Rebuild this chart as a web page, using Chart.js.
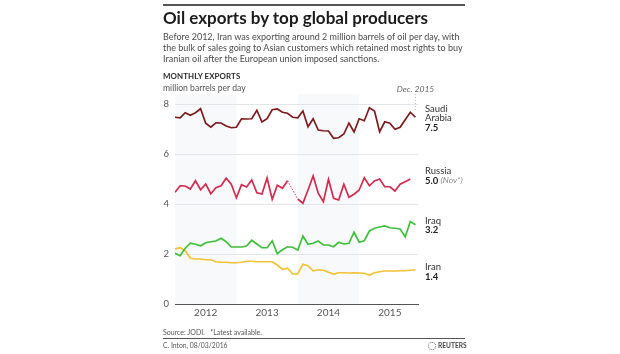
<!DOCTYPE html>
<html>
<head>
<meta charset="utf-8">
<script src="https://cdn.jsdelivr.net/npm/chart.js@4.4.1/dist/chart.umd.min.js"></script>
<style>
  body { margin: 0; background: #fff; font-family: Lato, "Open Sans", sans-serif; }
  #wrap { position: relative; width: 620px; height: 354px; overflow: hidden; background: #fff; }
  #wrap canvas { position: absolute; left: 0; top: 0; }
  .txt { position: absolute; left: 163px; white-space: nowrap; }
  .rule { position: absolute; left: 163px; width: 302px; background: #555; }
  #title { top: 7px; font-size: 17px; font-weight: 700; color: #1b1b1b; }
  #sub { top: 31px; font-size: 9px; line-height: 11px; color: #4a4a4a; }
  #head { top: 71px; font-size: 7.9px; font-weight: 700; color: #2a2a2a; letter-spacing: 0.1px; }
  #unit { top: 83px; font-size: 8.6px; color: #555; }
  #source { top: 328px; font-size: 7px; color: #555; }
  #credit { top: 341px; font-size: 6.8px; color: #555; }
  #logo { position: absolute; left: 428px; top: 341px; font-size: 6.6px; font-weight: 700; color: #444; white-space: nowrap; }
  #logo i { display: inline-block; width: 6px; height: 6px; border: 1.5px dotted #666; border-radius: 50%; vertical-align: -2px; margin-right: 2px; }
</style>
</head>
<body>
<div id="wrap">
  <canvas id="my-chart" width="620" height="354"></canvas>
  <div class="rule" style="top:4px;height:1.5px"></div>
  <div class="txt" id="title">Oil exports by top global producers</div>
  <div class="txt" id="sub">Before 2012, Iran was exporting around 2 million barrels of oil per day, with<br>the bulk of sales going to Asian customers which retained most rights to buy<br>Iranian oil after the European union imposed sanctions.</div>
  <div class="txt" id="head">MONTHLY EXPORTS</div>
  <div class="txt" id="unit">million barrels per day</div>
  <div class="txt" id="source">Source: JODI.&nbsp;&nbsp; *Latest available.</div>
  <div class="rule" style="top:338px;height:1px"></div>
  <div class="txt" id="credit">C. Inton, 08/03/2016</div>
  <div id="logo"><i></i>REUTERS</div>
</div>
<script>
// Jan 2012 .. Dec 2015
const months = [
    "Jan 12", "Feb 12", "Mar 12", "Apr 12", "May 12", "Jun 12", "Jul 12", "Aug 12", "Sep 12", "Oct 12", "Nov 12", "Dec 12",
    "Jan 13", "Feb 13", "Mar 13", "Apr 13", "May 13", "Jun 13", "Jul 13", "Aug 13", "Sep 13", "Oct 13", "Nov 13", "Dec 13",
    "Jan 14", "Feb 14", "Mar 14", "Apr 14", "May 14", "Jun 14", "Jul 14", "Aug 14", "Sep 14", "Oct 14", "Nov 14", "Dec 14",
    "Jan 15", "Feb 15", "Mar 15", "Apr 15", "May 15", "Jun 15", "Jul 15", "Aug 15", "Sep 15", "Oct 15", "Nov 15", "Dec 15"
];
const years = ["2012", "2013", "2014", "2015"];

const saudi = [
    7.47, 7.45, 7.65, 7.55, 7.65, 7.81, 7.23, 7.07, 7.25, 7.24, 7.12, 7.05,
    7.07, 7.41, 7.40, 7.41, 7.75, 7.28, 7.41, 7.77, 7.80, 7.67, 7.63, 7.47,
    7.45, 7.72, 7.09, 7.41, 6.96, 6.93, 6.92, 6.63, 6.65, 6.80, 7.24, 6.88,
    7.41, 7.33, 7.85, 7.72, 6.89, 7.29, 7.23, 6.99, 7.07, 7.37, 7.67, 7.47
];
const russia = [
    4.47, 4.73, 4.72, 4.60, 4.93, 4.57, 4.80, 4.41, 4.65, 4.73, 5.03, 4.79,
    4.25, 4.77, 4.68, 4.96, 4.45, 4.40, 5.04, 4.19, 4.75, 4.63, 4.93, null,
    4.20, 4.03, 4.56, 5.12, 4.43, 4.09, 4.99, 4.23, 4.16, 4.79, 4.27, 4.39,
    4.56, 5.05, 4.73, 4.92, 5.00, 4.69, 4.69, 4.52, 4.79, 4.89, 5.00, null
];
const iraq = [
    2.03, 1.93, 2.23, 2.43, 2.39, 2.33, 2.45, 2.49, 2.52, 2.63, 2.49, 2.28,
    2.28, 2.28, 2.32, 2.55, 2.40, 2.25, 2.25, 2.52, 2.01, 2.17, 2.29, 2.27,
    2.16, 2.72, 2.39, 2.43, 2.52, 2.36, 2.36, 2.29, 2.47, 2.40, 2.43, 2.87,
    2.47, 2.53, 2.92, 3.03, 3.08, 3.12, 3.05, 3.03, 3.00, 2.69, 3.30, 3.17
];
const iran = [
    2.20, 2.25, 2.13, 1.83, 1.80, 1.80, 1.77, 1.77, 1.69, 1.67, 1.67, 1.65,
    1.65, 1.67, 1.71, 1.71, 1.69, 1.69, 1.69, 1.69, 1.56, 1.39, 1.43, 1.20,
    1.20, 1.59, 1.53, 1.33, 1.37, 1.35, 1.27, 1.20, 1.25, 1.25, 1.24, 1.25,
    1.24, 1.23, 1.16, 1.25, 1.29, 1.32, 1.32, 1.32, 1.33, 1.33, 1.35, 1.37
];

const seriesNames = [["Saudi", "Arabia"], ["Russia"], ["Iraq"], ["Iran"]];
const latest = ["7.5", "5.0", "3.2", "1.4"];
const colors = ["#7e1a1c", "#d42a4f", "#3fbf3a", "#f1c232"];

// shaded years: 2012 and 2014, from first month to the next year's first month
const bands = [[0, 12], [24, 36]];
const yearTicks = [6, 18, 30, 42];

const toPoints = arr => arr.map((v, i) => ({ x: i, y: v }));

const skipped = (ctx, value) => ctx.p0.skip || ctx.p1.skip ? value : undefined;

const bandPlugin = {
    id: "bands",
    beforeDraw(chart) {
        const { ctx, chartArea, scales } = chart;
        ctx.save();
        ctx.fillStyle = "#f7f9fb";
        bands.forEach(b => {
            const x0 = scales.x.getPixelForValue(b[0]);
            const x1 = scales.x.getPixelForValue(b[1]);
            ctx.fillRect(x0, chartArea.top, x1 - x0, chartArea.bottom - chartArea.top);
        });
        ctx.restore();
    }
};

const labelPlugin = {
    id: "endLabels",
    afterDraw(chart) {
        const { ctx, chartArea, scales } = chart;
        const shift = [-8.5, -8, -4, -2.5];
        const x = chartArea.right + 7;
        ctx.save();
        ctx.textBaseline = "middle";
        ctx.textAlign = "left";
        chart.data.datasets.forEach((ds, i) => {
            const last = ds.data.filter(p => p.y !== null).slice(-1)[0];
            let y = scales.y.getPixelForValue(last.y) + shift[i];
            ctx.fillStyle = "#333";
            ctx.font = "9.5px Lato, sans-serif";
            seriesNames[i].forEach(line => {
                ctx.fillText(line, x, y);
                y += 9.5;
            });
            ctx.font = "bold 9.5px Lato, sans-serif";
            ctx.fillStyle = "#222";
            ctx.fillText(latest[i], x, y);
            if (i === 1) {
                const w = ctx.measureText(latest[i] + " ").width;
                ctx.font = "italic 8.5px Lato, sans-serif";
                ctx.fillStyle = "#888";
                ctx.fillText("(Nov*)", x + w, y);
            }
        });

        // latest month marker
        const xd = scales.x.getPixelForValue(47);
        ctx.font = "italic 8.5px Lato, sans-serif";
        ctx.fillStyle = "#666";
        ctx.textAlign = "center";
        ctx.fillText("Dec. 2015", xd, 89);
        ctx.strokeStyle = "#bbb";
        ctx.lineWidth = 1;
        ctx.setLineDash([1, 2]);
        ctx.beginPath();
        ctx.moveTo(xd, 94);
        ctx.lineTo(xd, 112);
        ctx.stroke();
        ctx.restore();
    }
};

const line = (arr, i) => ({
    data: toPoints(arr),
    borderColor: colors[i],
    borderWidth: 1.7,
    pointRadius: 0,
    tension: 0,
    spanGaps: true,
    segment: {
        borderDash: ctx => skipped(ctx, [1.5, 1.5]),
        borderWidth: ctx => skipped(ctx, 1)
    }
});

const ctx = document.getElementById("my-chart").getContext("2d");
const myChart = new Chart(ctx, {
    type: "line",
    data: {
        datasets: [line(saudi, 0), line(russia, 1), line(iraq, 2), line(iran, 3)]
    },
    options: {
        responsive: false,
        animation: false,
        events: [],
        layout: { padding: { left: 155, right: 202, top: 94, bottom: 30 } },
        plugins: { legend: { display: false }, tooltip: { enabled: false } },
        scales: {
            x: {
                type: "linear",
                min: 0,
                max: 47.5,
                afterBuildTicks: scale => {
                    scale.ticks = yearTicks.map(v => ({ value: v }));
                },
                afterFit: scale => { scale.height = 20; },
                ticks: {
                    callback: (v, i) => years[i],
                    color: "#555",
                    font: { family: "Lato", size: 10 },
                    padding: 3,
                    maxRotation: 0
                },
                grid: { display: false, drawTicks: false },
                border: { display: true, color: "#555", width: 1 }
            },
            y: {
                min: 0,
                max: 8.4,
                afterBuildTicks: scale => {
                    scale.ticks = [0, 2, 4, 6, 8].map(v => ({ value: v }));
                },
                afterFit: scale => { scale.width = 20; },
                ticks: {
                    color: "#555",
                    font: { family: "Lato", size: 9.5 },
                    padding: 6
                },
                grid: {
                    color: c => c.tick && c.tick.value === 0 ? "#555" : "#e2e6ea",
                    drawTicks: false
                },
                border: { display: false }
            }
        }
    },
    plugins: [bandPlugin, labelPlugin]
});
</script>
</body>
</html>
